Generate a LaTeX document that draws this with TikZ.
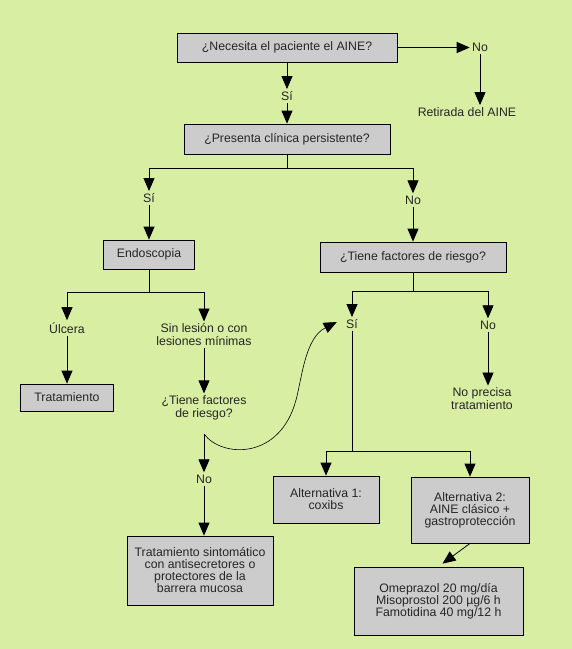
\documentclass[tikz,border=0pt]{standalone}
\usepackage{fontspec}
\setmainfont{Liberation Sans}
\usetikzlibrary{arrows.meta}
\definecolor{bgreen}{RGB}{216,238,162}
\definecolor{boxgray}{RGB}{204,204,204}
\begin{document}
\begin{tikzpicture}[x=1pt,y=-1pt,line width=0.8pt,
  box/.style={draw,fill=boxgray,align=center,inner sep=2pt,text=black!85,font=\fontsize{12.3}{12}\selectfont},
  lbl/.style={align=center,inner sep=2pt,text=black!85,font=\fontsize{12.3}{13}\selectfont},
  arr/.style={-{Triangle[width=11pt,length=13pt]}}]
  \fill[bgreen] (0,0) rectangle (572,649);
  \useasboundingbox (0,0) rectangle (572,649);
  % top question
  \node[box,minimum width=220pt,minimum height=29pt] (aine) at (287,47.5) {¿Necesita el paciente el AINE?};
  \node[lbl] (no1) at (480,47.5) {No};
  \node[lbl] (retirada) at (467,112) {Retirada del AINE};
  \node[lbl] (si1) at (287,96) {Sí};
  \node[box,minimum width=206pt,minimum height=30pt] (clinica) at (287,139) {¿Presenta clínica persistente?};
  \node[lbl] (si2) at (149,198) {Sí};
  \node[lbl] (no2) at (413,200) {No};
  % left branch
  \node[box,minimum width=91pt,minimum height=29pt] (endo) at (149,254.5) {Endoscopia};
  \node[lbl] (ulcera) at (67,328) {Úlcera};
  \node[lbl] (sinlesion) at (204,335) {Sin lesión o con\\lesiones mínimas};
  \node[box,minimum width=93pt,minimum height=27pt] (tratam) at (67,397.5) {Tratamiento};
  \node[lbl] (factores) at (204,408) {¿Tiene factores\\de riesgo?};
  \coordinate (fk) at (204,434);
  \node[lbl] (no3) at (204,479) {No};
  \node[box,minimum width=146pt,minimum height=69pt] (sintom) at (200,570.5) {Tratamiento sintomático\\con antisecretores o\\protectores de la\\barrera mucosa};
  % right branch
  \node[box,minimum width=186pt,minimum height=30pt] (riesgo) at (413,257) {¿Tiene factores de riesgo?};
  \node[lbl] (si4) at (352,324) {Sí};
  \node[lbl] (no4) at (488,325) {No};
  \node[lbl] (noprecisa) at (482,399) {No precisa\\tratamiento};
  \node[box,minimum width=106pt,minimum height=47pt] (alt1) at (326,499.5) {Alternativa 1:\\coxibs};
  \node[box,minimum width=118pt,minimum height=66pt] (alt2) at (470,510) {Alternativa 2:\\AINE clásico +\\gastroprotección};
  \node[box,minimum width=169pt,minimum height=68pt] (dosis) at (438.5,601) {Omeprazol 20 mg/día\\Misoprostol 200 µg/6 h\\Famotidina 40 mg/12 h};
  \coordinate (j1) at (287,168);
  \coordinate (j2) at (149,292);
  \coordinate (j3) at (413,291);
  \coordinate (j4) at (352,451);
  % connectors
  \draw[arr] (aine) -- (no1);
  \draw[arr] (no1) -- (no1 |- retirada.north);
  \draw[arr] (aine) -- (si1);
  \draw[arr] (si1) -- (clinica);
  \draw (clinica) -- (j1);
  \draw[arr] (j1) -| (si2);
  \draw[arr] (j1) -| (no2);
  \draw[arr] (si2) -- (endo);
  \draw (endo) -- (j2);
  \draw[arr] (j2) -| (ulcera);
  \draw[arr] (j2) -| (sinlesion);
  \draw[arr] (ulcera) -- (tratam);
  \draw[arr] (sinlesion) -- (factores);
  \draw[arr] (fk) -- (no3);
  \draw[arr] (no3) -- (no3 |- sintom.north);
  \draw[arr,line width=0.6pt] (fk) .. controls (222,458) and (280,460) .. (296,400)
    .. controls (302,378) and (305,338) .. ([xshift=-7pt,yshift=2pt]si4.west);
  \draw[arr] (no2) -- (riesgo);
  \draw (riesgo) -- (j3);
  \draw[arr] (j3) -| (si4);
  \draw[arr] (j3) -| (no4);
  \draw[arr] (no4) -- (no4 |- noprecisa.north);
  \draw (si4) -- (j4);
  \draw[arr] (j4) -| (alt1);
  \draw[arr] (j4) -| (alt2);
  \draw[arr,shorten >=5pt] (alt2.south) -- (dosis.north);
\end{tikzpicture}
\end{document}
